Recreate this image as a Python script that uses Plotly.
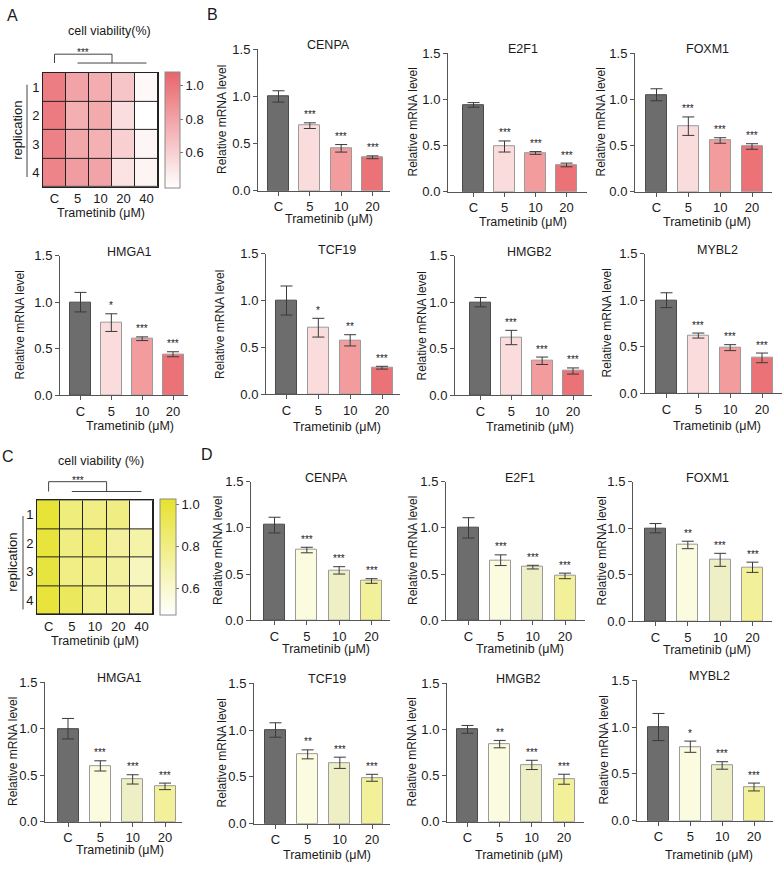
import plotly.graph_objects as go

W, H = 784, 871
FONT = "Arial, Liberation Sans, Helvetica, sans-serif"
TXT = "#1a1a1a"
AXC = "#555555"

# ---------------- data ----------------
doses = ["C", "5", "10", "20"]
heat_doses = ["C", "5", "10", "20", "40"]
replications = ["1", "2", "3", "4"]
y_ticks = [0.0, 0.5, 1.0, 1.5]
y_ticktext = ["0.0", "0.5", "1.0", "1.5"]
cbar_ticks = [0.6, 0.8, 1.0]
cbar_ticktext = ["0.6", "0.8", "1.0"]

# Panel A heatmap (cell viability, rows = replication 1..4)
via_a_rep1 = [0.97, 0.80, 0.76, 0.65, 0.42]
via_a_rep2 = [0.98, 0.75, 0.77, 0.54, 0.39]
via_a_rep3 = [0.95, 0.78, 0.74, 0.60, 0.43]
via_a_rep4 = [0.94, 0.83, 0.80, 0.52, 0.44]

# Panel C heatmap
via_c_rep1 = [1.00, 0.82, 0.79, 0.80, 0.47]
via_c_rep2 = [0.99, 0.80, 0.83, 0.73, 0.70]
via_c_rep3 = [0.98, 0.79, 0.77, 0.73, 0.64]
via_c_rep4 = [0.99, 0.90, 0.77, 0.73, 0.68]

# Panel B bars
b_cenpa = [1.00, 0.69, 0.45, 0.355]
b_cenpa_err = [0.06, 0.03, 0.04, 0.015]
b_cenpa_sig = ["", "***", "***", "***"]
b_e2f1 = [0.94, 0.49, 0.42, 0.29]
b_e2f1_err = [0.025, 0.06, 0.015, 0.02]
b_e2f1_sig = ["", "***", "***", "***"]
b_foxm1 = [1.05, 0.71, 0.555, 0.49]
b_foxm1_err = [0.065, 0.10, 0.03, 0.03]
b_foxm1_sig = ["", "***", "***", "***"]
b_hmga1 = [1.00, 0.78, 0.607, 0.44]
b_hmga1_err = [0.105, 0.095, 0.02, 0.027]
b_hmga1_sig = ["", "*", "***", "***"]
b_tcf19 = [1.00, 0.71, 0.575, 0.283]
b_tcf19_err = [0.155, 0.10, 0.06, 0.015]
b_tcf19_sig = ["", "*", "**", "***"]
b_hmgb2 = [1.00, 0.62, 0.37, 0.26]
b_hmgb2_err = [0.05, 0.077, 0.04, 0.033]
b_hmgb2_sig = ["", "***", "***", "***"]
b_mybl2 = [1.00, 0.62, 0.49, 0.38]
b_mybl2_err = [0.08, 0.027, 0.032, 0.052]
b_mybl2_sig = ["", "***", "***", "***"]

# Panel D bars
d_cenpa = [1.03, 0.76, 0.54, 0.425]
d_cenpa_err = [0.085, 0.03, 0.04, 0.025]
d_cenpa_sig = ["", "***", "***", "***"]
d_e2f1 = [1.00, 0.65, 0.575, 0.48]
d_e2f1_err = [0.11, 0.058, 0.02, 0.03]
d_e2f1_sig = ["", "***", "***", "***"]
d_foxm1 = [1.00, 0.82, 0.66, 0.58]
d_foxm1_err = [0.05, 0.04, 0.07, 0.055]
d_foxm1_sig = ["", "**", "***", "***"]
d_hmga1 = [1.00, 0.60, 0.455, 0.38]
d_hmga1_err = [0.11, 0.055, 0.05, 0.035]
d_hmga1_sig = ["", "***", "***", "***"]
d_tcf19 = [1.00, 0.74, 0.65, 0.49]
d_tcf19_err = [0.077, 0.048, 0.06, 0.037]
d_tcf19_sig = ["", "**", "***", "***"]
d_hmgb2 = [1.00, 0.84, 0.615, 0.46]
d_hmgb2_err = [0.042, 0.04, 0.05, 0.054]
d_hmgb2_sig = ["", "**", "***", "***"]
d_mybl2 = [1.00, 0.79, 0.59, 0.36]
d_mybl2_err = [0.145, 0.06, 0.04, 0.042]
d_mybl2_sig = ["", "*", "***", "***"]

# ---------------- styles ----------------
red_bars = ["#6d6d6d", "#fadcdc", "#f29c9e", "#eb7378"]
yel_bars = ["#6d6d6d", "#fbfbe0", "#eeefc4", "#f3f09a"]
bar_lines = ["#4a4a4a", "#9a9a9a", "#9a9a9a", "#9a9a9a"]
red_scale = [[0, "#ffffff"], [1, "#e8646a"]]
yel_scale = [[0, "#ffffff"], [1, "#e6e22e"]]


def fx(px):
    return px / W


def fy(py):
    return 1 - py / H


fig = go.Figure()
annotations = []
shapes = []

# (gene, means, errs, sigs, colors, geometry)
# geometry: axis_x, C centre, 20 centre, x end, y top(1.5), y bottom(0), ytitle offset, xlabel offset
bar_panels = [
    ("CENPA", b_cenpa, b_cenpa_err, b_cenpa_sig, red_bars, (258, 278.5, 372.5, 390, 43, 187, 36, 28)),
    ("E2F1", b_e2f1, b_e2f1_err, b_e2f1_sig, red_bars, (448, 473.5, 566.5, 587, 47, 188, 35, 30)),
    ("FOXM1", b_foxm1, b_foxm1_err, b_foxm1_sig, red_bars, (635, 656.5, 752, 772, 47, 188, 34, 30)),
    ("HMGA1", b_hmga1, b_hmga1_err, b_hmga1_sig, red_bars, (60, 80.5, 173, 188, 253, 395, 40, 31)),
    ("TCF19", b_tcf19, b_tcf19_err, b_tcf19_sig, red_bars, (266, 286.5, 382, 400, 251, 394, 46, 33)),
    ("HMGB2", b_hmgb2, b_hmgb2_err, b_hmgb2_sig, red_bars, (455, 480.5, 573, 592, 253, 395, 33, 32)),
    ("MYBL2", b_mybl2, b_mybl2_err, b_mybl2_sig, red_bars, (645, 666.5, 762, 782, 251, 393, 38, 33)),
    ("CENPA", d_cenpa, d_cenpa_err, d_cenpa_sig, yel_bars, (251, 274.5, 371.5, 390, 483, 624, 33, 29)),
    ("E2F1", d_e2f1, d_e2f1_err, d_e2f1_sig, yel_bars, (446, 468.5, 565, 585, 483, 624, 33, 29)),
    ("FOXM1", d_foxm1, d_foxm1_err, d_foxm1_sig, yel_bars, (633, 655.5, 752.5, 772, 483, 625, 31, 29)),
    ("HMGA1", d_hmga1, d_hmga1_err, d_hmga1_sig, yel_bars, (45, 68, 165, 182, 687, 829, 32, 28)),
    ("TCF19", d_tcf19, d_tcf19_err, d_tcf19_sig, yel_bars, (254, 275.5, 372, 390, 688, 831, 32, 31)),
    ("HMGB2", d_hmgb2, d_hmgb2_err, d_hmgb2_sig, yel_bars, (447, 467.5, 564, 584, 688, 829, 35, 33)),
    ("MYBL2", d_mybl2, d_mybl2_err, d_mybl2_sig, yel_bars, (637, 658.5, 754, 773, 685, 828, 33, 34)),
]

layout_axes = {}
for i, (gene, means, errs, sigs, colors, geo) in enumerate(bar_panels, start=1):
    ax_x, c_cx, c20_cx, x_end, y_top, y_bot, yt_off, xl_off = geo
    pitch = (c20_cx - c_cx) / 3
    xr = [-(c_cx - ax_x) / pitch, 3 + (x_end - c20_cx) / pitch]
    xref, yref = f"x{i}", f"y{i}"
    fig.add_trace(go.Bar(
        x=doses, y=means, width=21 / pitch,
        marker=dict(color=colors, line=dict(color=bar_lines, width=1)),
        error_y=dict(type="data", array=errs, visible=True, color="#3a3a3a",
                     thickness=1, width=6),
        xaxis=xref, yaxis=yref, showlegend=False, hoverinfo="skip"))
    layout_axes[f"xaxis{i}"] = dict(
        domain=[fx(ax_x), fx(x_end)], range=xr, anchor=yref, type="category",
        showline=True, linecolor=AXC, linewidth=1, ticks="outside", ticklen=4,
        tickcolor=AXC, tickwidth=1, showgrid=False, zeroline=False,
        tickfont=dict(size=13, color=TXT, family=FONT), fixedrange=True)
    layout_axes[f"yaxis{i}"] = dict(
        domain=[fy(y_bot), fy(y_top)], range=[0, 1.5], anchor=xref,
        tickvals=y_ticks, ticktext=y_ticktext,
        showline=True, linecolor=AXC, linewidth=1, ticks="outside", ticklen=4,
        tickcolor=AXC, tickwidth=1, showgrid=False, zeroline=False,
        tickfont=dict(size=13, color=TXT, family=FONT), fixedrange=True)
    # gene title
    annotations.append(dict(x=1.5, y=1.5, xref=xref, yref=yref, text=gene,
                            showarrow=False, xanchor="center", yanchor="middle",
                            yshift=4, xshift=3, font=dict(size=12.5, color=TXT)))
    # x title
    annotations.append(dict(x=1.5, y=0, xref=xref, yref=yref, text="Trametinib (μM)",
                            showarrow=False, xanchor="center", yanchor="middle",
                            yshift=-xl_off, xshift=3, font=dict(size=12.5, color=TXT)))
    # y title
    annotations.append(dict(x=fx(ax_x - yt_off), y=fy((y_top + y_bot) / 2),
                            xref="paper", yref="paper", text="Relative mRNA level",
                            textangle=-90, showarrow=False, xanchor="center",
                            yanchor="middle", font=dict(size=12, color=TXT)))
    # significance stars (positioned by category index)
    for k, (m, e, s) in enumerate(zip(means, errs, sigs)):
        if s:
            annotations.append(dict(x=k, y=m + e, xref=xref, yref=yref, text=s,
                                    showarrow=False, xanchor="center", yanchor="middle",
                                    yshift=8, font=dict(size=10, color=TXT)))

# ---------------- heatmaps ----------------
heat_panels = [
    ("cell viability(%)", [via_a_rep1, via_a_rep2, via_a_rep3, via_a_rep4], red_scale,
     0.39, 1.084, (43, 158, 67, 183), (165, 15), (110, 24), (18, 27, 79, 173),
     (48, 57, 43), 210),
    ("cell viability (%)", [via_c_rep1, via_c_rep2, via_c_rep3, via_c_rep4], yel_scale,
     0.47, 1.024, (37, 153, 502, 618), (160, 16), (101, 462), (13, 23, 518, 613),
     (483, 493, 479), 645),
]

for j, (title, z, cscale, zmin, zmax, box, cb, tpos, rep, brk, xl_y) in enumerate(heat_panels):
    i = len(bar_panels) + 1 + j
    x0, x1, y0, y1 = box
    xref, yref = f"x{i}", f"y{i}"
    fig.add_trace(go.Heatmap(
        z=z, x=heat_doses, y=replications, colorscale=cscale, zmin=zmin, zmax=zmax,
        xgap=1, ygap=1, xaxis=xref, yaxis=yref, hoverinfo="skip",
        colorbar=dict(x=fx(cb[0]), xanchor="left", y=fy((y0 + y1) / 2), yanchor="middle",
                      len=y1 - y0, lenmode="pixels", thickness=cb[1], thicknessmode="pixels",
                      xpad=0, ypad=0, outlinecolor="#8a8a8a", outlinewidth=1,
                      tickvals=cbar_ticks, ticktext=cbar_ticktext, ticks="outside",
                      ticklen=3, tickcolor="#777777",
                      tickfont=dict(size=13, color=TXT, family=FONT))))
    layout_axes[f"xaxis{i}"] = dict(
        domain=[fx(x0), fx(x1)], anchor=yref, type="category", showline=True, mirror=True,
        linecolor="#222222", linewidth=1, ticks="", showgrid=False, zeroline=False,
        tickfont=dict(size=13, color=TXT, family=FONT), fixedrange=True)
    layout_axes[f"yaxis{i}"] = dict(
        domain=[fy(y1), fy(y0)], anchor=xref, type="category", autorange="reversed",
        showline=True, mirror=True, linecolor="#222222", linewidth=1, ticks="",
        showgrid=False, zeroline=False,
        tickfont=dict(size=13, color=TXT, family=FONT), fixedrange=True)
    # dark background shows through the cell gaps as grid lines
    shapes.append(dict(type="rect", xref=f"{xref} domain", yref=f"{yref} domain",
                       x0=0, x1=1, y0=0, y1=1, fillcolor="#222222",
                       line=dict(width=0), layer="below"))
    # title
    annotations.append(dict(x=fx(tpos[0]), y=fy(tpos[1]), xref="paper", yref="paper",
                            text=title, showarrow=False, xanchor="center",
                            yanchor="middle", font=dict(size=12.5, color=TXT)))
    # x title
    annotations.append(dict(x=fx((x0 + x1) / 2), y=fy(xl_y), xref="paper", yref="paper",
                            text="Trametinib (μM)", showarrow=False, xanchor="center",
                            yanchor="middle", font=dict(size=12.5, color=TXT)))
    # replication label + line
    annotations.append(dict(x=fx(rep[0]), y=fy((rep[2] + rep[3]) / 2), xref="paper",
                            yref="paper", text="replication", textangle=-90,
                            showarrow=False, xanchor="center", yanchor="middle",
                            font=dict(size=13, color=TXT)))
    shapes.append(dict(type="line", xref="paper", yref="paper", x0=fx(rep[1]),
                       x1=fx(rep[1]), y0=fy(rep[2]), y1=fy(rep[3]),
                       line=dict(color="#444444", width=1)))
    # significance bracket: C vs treated group
    top, low, star_y = brk
    lc = dict(color="#444444", width=1)
    shapes.append(dict(type="line", xref=xref, yref="paper", x0=0, x1=0,
                       y0=fy(low), y1=fy(top), line=lc))
    shapes.append(dict(type="line", xref=xref, yref="paper", x0=0, x1=2.5,
                       y0=fy(top), y1=fy(top), line=lc))
    shapes.append(dict(type="line", xref=xref, yref="paper", x0=2.5, x1=2.5,
                       y0=fy(top), y1=fy(low), line=lc))
    shapes.append(dict(type="line", xref=xref, yref="paper", x0=1, x1=4,
                       y0=fy(low), y1=fy(low), line=lc))
    annotations.append(dict(x=1.25, y=fy(star_y + 3), xref=xref, yref="paper", text="***",
                            showarrow=False, xanchor="center", yanchor="middle",
                            font=dict(size=10, color=TXT)))

# panel letters
for letter, (px, py) in zip(["A", "B", "C", "D"], [(12, 9), (212, 8), (8, 457), (207, 455)]):
    annotations.append(dict(x=fx(px), y=fy(py), xref="paper", yref="paper", text=letter,
                            showarrow=False, xanchor="center", yanchor="middle",
                            font=dict(size=16, color=TXT)))

fig.update_layout(
    width=W, height=H, margin=dict(l=0, r=0, t=0, b=0, pad=0),
    paper_bgcolor="white", plot_bgcolor="white",
    font=dict(family=FONT, color=TXT, size=12),
    showlegend=False, bargap=0,
    annotations=annotations, shapes=shapes, **layout_axes)

fig.write_html("out.html", config={"displayModeBar": False},
               post_script="document.body.style.margin='0';")
